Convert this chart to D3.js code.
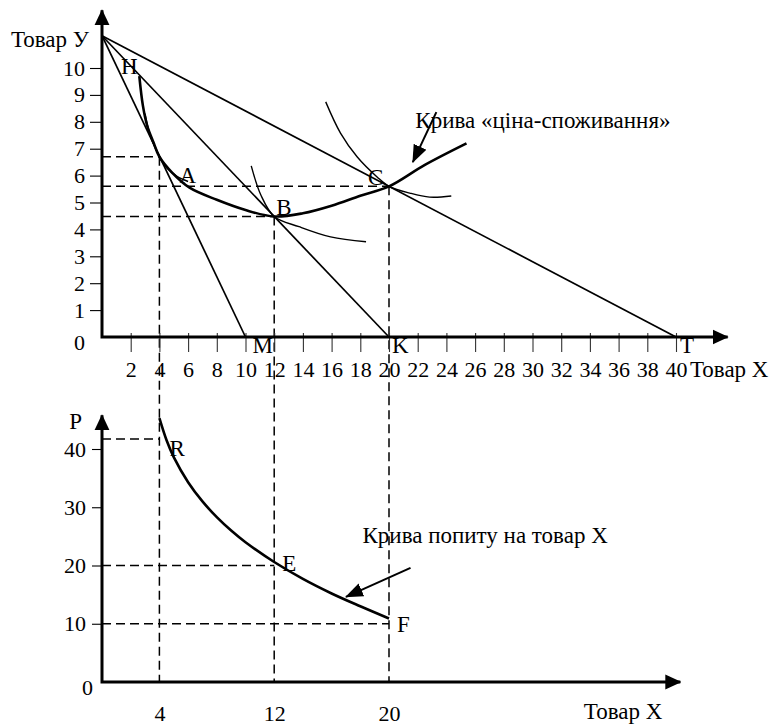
<!DOCTYPE html>
<html><head><meta charset="utf-8">
<script src="https://cdn.jsdelivr.net/npm/d3@7"></script>
<style>
html,body{margin:0;padding:0;background:#fff;}
svg{display:block;}
</style></head><body>
<svg id="chart" width="775" height="726"></svg>
<script>
// ================= DATA =================
// --- top panel: goods X and Y ---
const budgetYIntercept = 11.2;            // common Y-intercept of all budget lines
const budgetXIntercepts = [10, 20, 40];   // M, K, T
const budgetLabels = ["M", "K", "T"];
const optimumLabels = ["A", "B", "C"];
const optimumX = [4, 12, 20];
const optimumY = [6.7, 4.48, 5.6];
// price-consumption curve
const pccX = [2.6, 2.85, 3.15, 3.6, 4, 4.9, 6.1, 8, 10, 12, 14, 16, 18, 20, 22.5, 25.4];
const pccY = [9.7, 8.6, 7.85, 7.22, 6.7, 6.1, 5.55, 5.1, 4.72, 4.48, 4.6, 4.88, 5.25, 5.6, 6.4, 7.2];
// indifference curves
const ic1X = [3.0, 3.3, 3.65, 4, 4.5, 5.2, 6.0];
const ic1Y = [8.3, 7.6, 7.1, 6.72, 6.3, 5.98, 5.78];
const ic2X = [10.4, 11.07, 12, 13.73, 15.93, 18.4];
const ic2Y = [6.36, 5.28, 4.48, 4.1, 3.72, 3.54];
const ic3X = [15.59, 16.62, 17.79, 19.17, 20, 21.45, 22.83, 24.34];
const ic3Y = [8.74, 7.58, 6.69, 5.95, 5.6, 5.35, 5.2, 5.24];
// annotation arrow (tail -> head)
const pccArrowX = [23.3, 21.66];
const pccArrowY = [8.36, 6.5];
// ticks
const topXTicks = [2, 4, 6, 8, 10, 12, 14, 16, 18, 20, 22, 24, 26, 28, 30, 32, 34, 36, 38, 40];
const topYTicks = [1, 2, 3, 4, 5, 6, 7, 8, 9, 10];
const topXAxisMax = 43.6, topYAxisMax = 12.15;

// --- bottom panel: demand for X ---
const demandLabels = ["R", "E", "F"];
const demandQty = [4, 12, 20];
const demandPrice = [41.7, 20, 10];
const demandCurveX = [4, 4.5, 5, 6, 7, 8, 9, 10, 12, 14, 16, 18, 20];
const demandCurveP = [45.3, 41.5, 38.6, 34.3, 31.0, 28.3, 26.0, 24.0, 20.6, 17.7, 15.2, 13.0, 10.9];
const demandArrowX = [21.5, 17.0];
const demandArrowP = [19.6, 14.6];
const botXTicks = [4, 12, 20];
const botPTicks = [10, 20, 30, 40];
const botXAxisMax = 40.3, botPAxisMax = 45.8;

// texts
const txtGoodY = "Товар У", txtGoodX = "Товар Х", txtPrice = "P", txtH = "H";
const txtPCC = "Крива «ціна-споживання»";
const txtDemand = "Крива попиту на товар Х";

// ================= DRAW =================
const FONT = "'Liberation Serif','Times New Roman',serif";
const FS = 23, TFS = 22;
const svg = d3.select("#chart").attr("font-family", FONT).attr("font-size", FS);

const x = d3.scaleLinear().domain([0, 40]).range([102, 676]);
const yTop = d3.scaleLinear().domain([0, 10]).range([337, 68]);
const yBot = d3.scaleLinear().domain([0, 40]).range([682, 449]);

const defs = svg.append("defs");
defs.append("marker").attr("id", "axArrow").attr("markerUnits", "userSpaceOnUse")
  .attr("viewBox", "0 -8 16 16").attr("refX", 15).attr("refY", 0)
  .attr("markerWidth", 16).attr("markerHeight", 16).attr("orient", "auto-start-reverse")
  .append("path").attr("d", "M0,-7.5L16,0L0,7.5Z").attr("fill", "#000");
defs.append("marker").attr("id", "annArrow").attr("markerUnits", "userSpaceOnUse")
  .attr("viewBox", "0 -8 18 16").attr("refX", 17).attr("refY", 0)
  .attr("markerWidth", 18).attr("markerHeight", 16).attr("orient", "auto")
  .append("path").attr("d", "M0,-7L18,0L0,7Z").attr("fill", "#000");

const dash = "9,5";
function dashed(x1, y1, x2, y2) {
  svg.append("line").attr("x1", x1).attr("y1", y1).attr("x2", x2).attr("y2", y2)
    .attr("stroke", "#000").attr("stroke-width", 1.5).attr("stroke-dasharray", dash);
}

// ---------- top panel ----------
optimumX.forEach((q, i) => {
  dashed(x(0), yTop(optimumY[i]), x(q), yTop(optimumY[i]));
  dashed(x(q), yTop(optimumY[i]), x(q), yBot(0));
});

const gx = svg.append("g").attr("transform", `translate(0,${yTop(0)})`)
  .call(d3.axisBottom(x).tickValues(topXTicks).tickSize(15).tickPadding(9));
gx.attr("font-family", FONT).attr("font-size", TFS);
gx.select(".domain").remove();
gx.selectAll(".tick line").attr("y1", -4).attr("stroke", "#333").attr("stroke-width", 1.1);
gx.selectAll(".tick text").attr("fill", "#000");

const gy = svg.append("g").attr("transform", `translate(${x(0)},0)`)
  .call(d3.axisLeft(yTop).tickValues(topYTicks).tickSize(12).tickPadding(5));
gy.attr("font-family", FONT).attr("font-size", TFS);
gy.select(".domain").remove();
gy.selectAll(".tick line").attr("stroke", "#000").attr("stroke-width", 1.1);
gy.selectAll(".tick text").attr("fill", "#000");

svg.append("path")
  .attr("d", `M${x(0)},${yTop(topYAxisMax)}L${x(0)},${yTop(0)}L${x(topXAxisMax)},${yTop(0)}`)
  .attr("fill", "none").attr("stroke", "#000").attr("stroke-width", 3)
  .attr("marker-start", "url(#axArrow)").attr("marker-end", "url(#axArrow)");

svg.append("text").attr("x", x(0) - 17).attr("y", yTop(0) + 6).attr("dy", "0.32em")
  .attr("font-size", TFS).attr("text-anchor", "end").text("0");
svg.append("text").attr("x", x(0) - 13).attr("y", yTop(topYAxisMax) + 37)
  .attr("text-anchor", "end").text(txtGoodY);
svg.append("text").attr("x", x(40) + 14).attr("y", yTop(0) + 40).text(txtGoodX);

// budget lines
budgetXIntercepts.forEach((xi) => {
  svg.append("line").attr("x1", x(0)).attr("y1", yTop(budgetYIntercept))
    .attr("x2", x(xi)).attr("y2", yTop(0))
    .attr("stroke", "#000").attr("stroke-width", 1.7);
});
svg.append("text").attr("x", x(0) + 19).attr("y", yTop(budgetYIntercept) + 38).text(txtH);
const budgetLabelDx = [7, 3, 4];
budgetXIntercepts.forEach((xi, i) => {
  svg.append("text").attr("x", x(xi) + budgetLabelDx[i]).attr("y", yTop(0) + 16).text(budgetLabels[i]);
});

// curves
const lineTop = d3.line().x(d => x(d[0])).y(d => yTop(d[1])).curve(d3.curveCatmullRom.alpha(0.5));
const zip = (a, b) => a.map((v, i) => [v, b[i]]);
[[ic1X, ic1Y], [ic2X, ic2Y], [ic3X, ic3Y]].forEach(([cx, cy]) => {
  svg.append("path").attr("d", lineTop(zip(cx, cy)))
    .attr("fill", "none").attr("stroke", "#000").attr("stroke-width", 1.4);
});
svg.append("path").attr("d", lineTop(zip(pccX, pccY)))
  .attr("fill", "none").attr("stroke", "#000").attr("stroke-width", 2.6);

const optDx = [20, 2, -21], optDy = [26, -1, -1];
optimumX.forEach((q, i) => {
  svg.append("text").attr("x", x(q) + optDx[i]).attr("y", yTop(optimumY[i]) + optDy[i]).text(optimumLabels[i]);
});

svg.append("line").attr("x1", x(pccArrowX[0])).attr("y1", yTop(pccArrowY[0]))
  .attr("x2", x(pccArrowX[1])).attr("y2", yTop(pccArrowY[1]))
  .attr("stroke", "#000").attr("stroke-width", 2).attr("marker-end", "url(#annArrow)");
svg.append("text").attr("x", x(pccArrowX[0]) - 21).attr("y", yTop(pccArrowY[0]) + 16).text(txtPCC);

// ---------- bottom panel ----------
demandQty.forEach((q, i) => {
  dashed(x(0), yBot(demandPrice[i]), x(q), yBot(demandPrice[i]));
});

const gpy = svg.append("g").attr("transform", `translate(${x(0)},0)`)
  .call(d3.axisLeft(yBot).tickValues(botPTicks).tickSize(10).tickPadding(6));
gpy.attr("font-family", FONT).attr("font-size", TFS);
gpy.select(".domain").remove();
gpy.selectAll(".tick line").attr("stroke", "#000").attr("stroke-width", 1.1);
gpy.selectAll(".tick text").attr("fill", "#000");

const gpx = svg.append("g").attr("transform", `translate(0,${yBot(0)})`)
  .call(d3.axisBottom(x).tickValues(botXTicks).tickSize(0).tickPadding(23));
gpx.attr("font-family", FONT).attr("font-size", TFS);
gpx.select(".domain").remove();
gpx.selectAll(".tick text").attr("fill", "#000");

svg.append("path")
  .attr("d", `M${x(0)},${yBot(botPAxisMax)}L${x(0)},${yBot(0)}L${x(botXAxisMax)},${yBot(0)}`)
  .attr("fill", "none").attr("stroke", "#000").attr("stroke-width", 3)
  .attr("marker-start", "url(#axArrow)").attr("marker-end", "url(#axArrow)");

svg.append("text").attr("x", x(0) - 9).attr("y", yBot(0) + 6).attr("dy", "0.32em")
  .attr("font-size", TFS).attr("text-anchor", "end").text("0");
svg.append("text").attr("x", x(0) - 20).attr("y", yBot(botPAxisMax) + 14)
  .attr("text-anchor", "end").text(txtPrice);
svg.append("text").attr("x", x(botXAxisMax) - 18).attr("y", yBot(0) + 37)
  .attr("text-anchor", "end").text(txtGoodX);

const lineBot = d3.line().x(d => x(d[0])).y(d => yBot(d[1])).curve(d3.curveCatmullRom.alpha(0.5));
svg.append("path").attr("d", lineBot(zip(demandCurveX, demandCurveP)))
  .attr("fill", "none").attr("stroke", "#000").attr("stroke-width", 2.6);

const dDx = [10, 8, 8], dDy = [17, 5, 8];
demandQty.forEach((q, i) => {
  svg.append("text").attr("x", x(q) + dDx[i]).attr("y", yBot(demandPrice[i]) + dDy[i]).text(demandLabels[i]);
});

svg.append("line").attr("x1", x(demandArrowX[0])).attr("y1", yBot(demandArrowP[0]))
  .attr("x2", x(demandArrowX[1])).attr("y2", yBot(demandArrowP[1]))
  .attr("stroke", "#000").attr("stroke-width", 2).attr("marker-end", "url(#annArrow)");
svg.append("text").attr("x", x(demandArrowX[0]) - 48).attr("y", yBot(demandArrowP[0]) - 25).text(txtDemand);
</script>
</body></html>
